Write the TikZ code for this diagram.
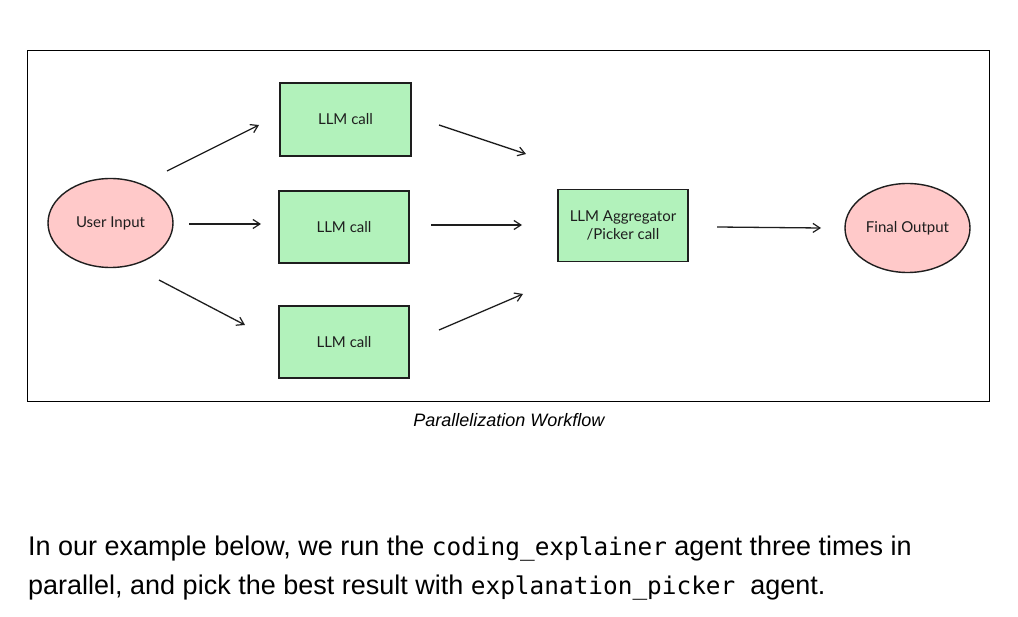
\documentclass[tikz,border=0pt]{standalone}
\usepackage{fontspec}
\setmainfont{Liberation Sans}
\newfontfamily\nodefont{Lato}
\newfontfamily\codefont{DejaVu Sans Mono}
\usetikzlibrary{arrows.meta,shapes.geometric}
\definecolor{ink}{HTML}{1E1E1E}
\definecolor{boxgreen}{HTML}{B2F2BB}
\definecolor{boxpink}{HTML}{FFC9C9}
\tikzset{
  callbox/.style={draw=ink, line width=1.4pt, fill=boxgreen, minimum width=130pt, minimum height=72pt, inner sep=0pt, font=\nodefont\fontsize{15}{18}\selectfont, text=ink, align=center},
  endpoint/.style={ellipse, draw=ink, line width=1.4pt, fill=boxpink, minimum width=125pt, minimum height=89pt, inner sep=0pt, font=\nodefont\fontsize{15}{18}\selectfont, text=ink},
  flow/.style={draw=ink, line width=1.3pt, -{Straight Barb[length=7pt,width=9pt,line width=1.2pt]}},
  bodytext/.style={anchor=base west, inner sep=0pt, font=\fontsize{27}{32}\selectfont, text=black},
}
\newcommand{\codebit}[1]{{\codefont\fontsize{24.4}{32}\selectfont #1}}
\begin{document}
\begin{tikzpicture}[x=1pt,y=-1pt]
\useasboundingbox (0,0) rectangle (1018,617);
\fill[white] (0,0) rectangle (1018,617);
\draw[black, line width=1pt] (27,51) rectangle (989,402);

\node[endpoint] (ui) at (110.5,223) {User Input};
\node[callbox, minimum width=131pt, minimum height=73pt] (c1) at (345.5,119.5) {LLM call};
\node[callbox] (c2) at (344,227) {LLM call};
\node[callbox] (c3) at (344,342) {LLM call};
\node[callbox] (agg) at (623,225.5) {LLM Aggregator\\/Picker call};
\node[endpoint] (fo) at (907.5,228) {Final Output};

\coordinate (a1s) at (167,171); \coordinate (a1e) at (259,125);
\coordinate (a2s) at (189,224); \coordinate (a2e) at (261,224);
\coordinate (a3s) at (159,280); \coordinate (a3e) at (245,325);
\coordinate (b1s) at (439,125); \coordinate (b1e) at (526,154);
\coordinate (b2s) at (431,225); \coordinate (b2e) at (522,225);
\coordinate (b3s) at (439,330); \coordinate (b3e) at (523,294);
\coordinate (ds) at (717,227); \coordinate (de) at (821,228);

\draw[flow] (a1s) -- (a1e);
\draw[flow] (a2s) -- (a2e);
\draw[flow] (a3s) -- (a3e);
\draw[flow] (b1s) -- (b1e);
\draw[flow] (b2s) -- (b2e);
\draw[flow] (b3s) -- (b3e);
\draw[flow] (ds) -- (de);

\node[font=\itshape\fontsize{18}{21}\selectfont, inner sep=0pt, anchor=base] (cap) at (509,427) {Parallelization Workflow};

\node[bodytext] (l1) at (28,555)
  {In our example below, we run the \codebit{coding\_explainer} agent three times in};
\node[bodytext] (l2) at (28,594)
  {parallel, and pick the best result with \codebit{explanation\_picker}\ \ agent.};
\end{tikzpicture}
\end{document}
